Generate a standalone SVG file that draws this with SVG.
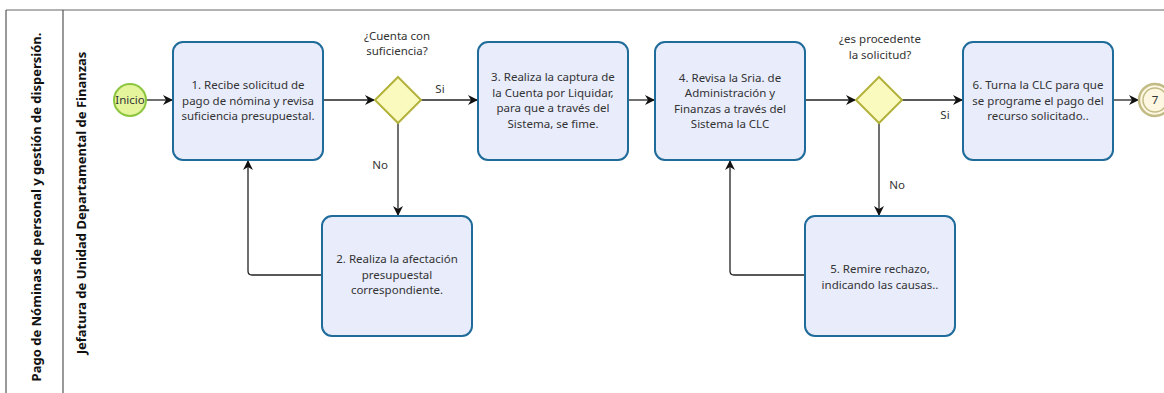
<svg xmlns="http://www.w3.org/2000/svg" width="1164" height="393" viewBox="0 0 1164 393">
  <style>
    text { font-family: "Noto Sans", "Open Sans", "Liberation Sans", sans-serif; font-size: 11.5px; fill: #333; }
    .task rect { fill: #e8ecfb; stroke: #1f6b9a; stroke-width: 2; }
    .gw polygon { fill: #fafabf; stroke: #b3b33c; stroke-width: 2; }
    .lbl { text-anchor: middle; }
    .conn { fill: none; stroke: #222; stroke-width: 1.3; }
    .lane { font-weight: bold; font-size: 13px; fill: #111; }
  </style>
  <defs>
    <marker id="arr" markerWidth="10" markerHeight="10" refX="9" refY="5" orient="auto" markerUnits="userSpaceOnUse">
      <path d="M0,0 L10,5 L0,10 L3,5 Z" fill="#111"/>
    </marker>
  </defs>
  <rect width="1164" height="393" fill="#fff"/>

  <!-- pool and lane frame -->
  <g id="pool">
    <line x1="6" y1="10" x2="1164" y2="10" stroke="#999" stroke-width="1.5"/>
    <line x1="6" y1="10" x2="6" y2="393" stroke="#555" stroke-width="1.2"/>
    <line x1="63" y1="10" x2="63" y2="393" stroke="#555" stroke-width="1.2"/>
    <text class="lane lbl" transform="translate(41,207) rotate(-90)">Pago de Nóminas de personal y gestión de dispersión.</text>
    <text class="lane lbl" transform="translate(86,203) rotate(-90)">Jefatura de Unidad Departamental de Finanzas</text>
  </g>

  <!-- connectors -->
  <g id="connectors">
    <line class="conn" x1="146" y1="100" x2="172" y2="100" marker-end="url(#arr)"/>
    <line class="conn" x1="323" y1="100" x2="374" y2="100" marker-end="url(#arr)"/>
    <line class="conn" x1="421" y1="100" x2="477" y2="100" marker-end="url(#arr)"/>
    <line class="conn" x1="398" y1="123" x2="398" y2="215" marker-end="url(#arr)"/>
    <path class="conn" d="M322,275 H252 Q248,275 248,271 V161" marker-end="url(#arr)"/>
    <line class="conn" x1="628" y1="100" x2="654" y2="100" marker-end="url(#arr)"/>
    <line class="conn" x1="805" y1="100" x2="855" y2="100" marker-end="url(#arr)"/>
    <line class="conn" x1="902" y1="100" x2="962" y2="100" marker-end="url(#arr)"/>
    <line class="conn" x1="879" y1="123" x2="879" y2="215" marker-end="url(#arr)"/>
    <path class="conn" d="M805,275 H734 Q730,275 730,271 V161" marker-end="url(#arr)"/>
    <line class="conn" x1="1113" y1="100" x2="1138" y2="100" marker-end="url(#arr)"/>
    <text x="440" y="93" class="lbl">Si</text>
    <text x="380" y="169" class="lbl">No</text>
    <text x="945" y="119" class="lbl">Si</text>
    <text x="897" y="189" class="lbl">No</text>
  </g>

  <g id="start">
    <circle cx="130" cy="100" r="16" fill="#e4f59c" stroke="#8cc63f" stroke-width="2"/>
    <text x="130" y="104" class="lbl">Inicio</text>
  </g>

  <g id="task1" class="task">
    <rect x="173" y="42" width="150" height="118" rx="10"/>
    <text x="248" y="89" class="lbl">1. Recibe solicitud de</text>
    <text x="248" y="105" class="lbl">pago de nómina y revisa</text>
    <text x="248" y="120" class="lbl">suficiencia presupuestal.</text>
  </g>

  <g id="gateway1" class="gw">
    <polygon points="398,77 421,100 398,123 375,100"/>
    <text x="397" y="40" class="lbl">¿Cuenta con</text>
    <text x="397" y="55" class="lbl">suficiencia?</text>
  </g>

  <g id="task2" class="task">
    <rect x="322" y="216" width="150" height="120" rx="10"/>
    <text x="397" y="263" class="lbl">2. Realiza la afectación</text>
    <text x="397" y="279" class="lbl">presupuestal</text>
    <text x="397" y="294" class="lbl">correspondiente.</text>
  </g>

  <g id="task3" class="task">
    <rect x="478" y="42" width="150" height="118" rx="10"/>
    <text x="553" y="81" class="lbl">3. Realiza la captura de</text>
    <text x="553" y="97" class="lbl">la Cuenta por Liquidar,</text>
    <text x="553" y="112" class="lbl">para que a través del</text>
    <text x="553" y="128" class="lbl">Sistema, se fime.</text>
  </g>

  <g id="task4" class="task">
    <rect x="655" y="42" width="150" height="118" rx="10"/>
    <text x="730" y="82" class="lbl">4. Revisa la Sria. de</text>
    <text x="730" y="97" class="lbl">Administración y</text>
    <text x="730" y="113" class="lbl">Finanzas a través del</text>
    <text x="730" y="128" class="lbl">Sistema la CLC</text>
  </g>

  <g id="gateway2" class="gw">
    <polygon points="879,77 902,100 879,123 856,100"/>
    <text x="880" y="43" class="lbl">¿es procedente</text>
    <text x="880" y="59" class="lbl">la solicitud?</text>
  </g>

  <g id="task5" class="task">
    <rect x="805" y="216" width="150" height="120" rx="10"/>
    <text x="880" y="273" class="lbl">5. Remire rechazo,</text>
    <text x="880" y="289" class="lbl">indicando las causas..</text>
  </g>

  <g id="task6" class="task">
    <rect x="963" y="42" width="150" height="118" rx="10"/>
    <text x="1038" y="89" class="lbl">6. Turna la CLC para que</text>
    <text x="1038" y="105" class="lbl">se programe el pago del</text>
    <text x="1038" y="120" class="lbl">recurso solicitado..</text>
  </g>

  <g id="end">
    <circle cx="1155" cy="100" r="16" fill="#fdf7e2" stroke="#c2bb85" stroke-width="2.5"/>
    <circle cx="1155" cy="100" r="12" fill="none" stroke="#c2bb85" stroke-width="1.5"/>
    <text x="1155" y="104" class="lbl">7</text>
  </g>
</svg>
